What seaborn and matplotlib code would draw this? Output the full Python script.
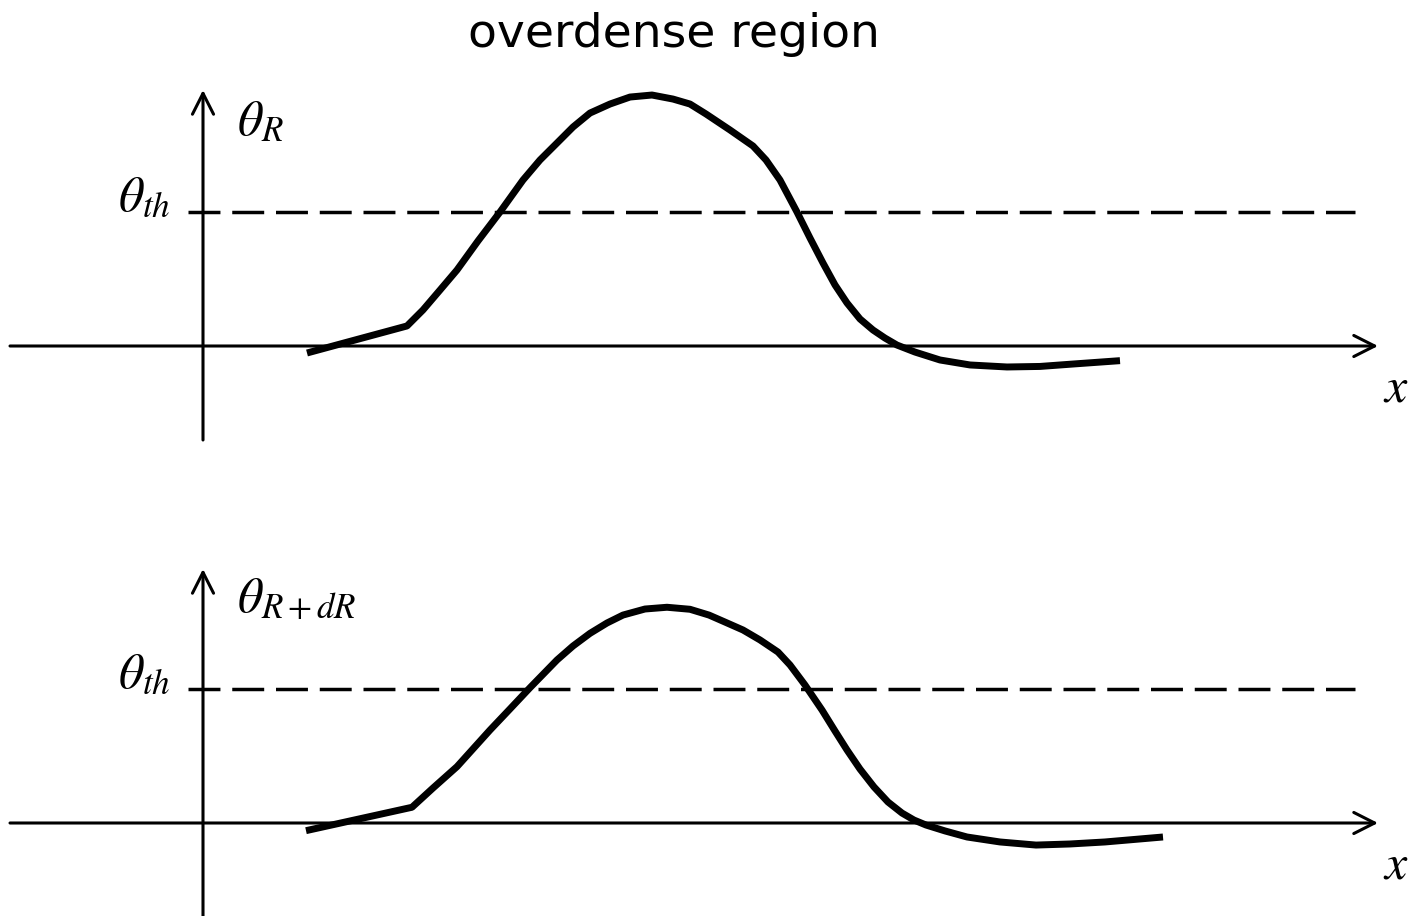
import numpy as np
import pandas as pd
import seaborn as sns
import matplotlib.pyplot as plt

# curve shapes: x = distance from the vertical axis (px), theta in units of theta_th
top_x = [104, 204, 220, 237, 254, 275, 297, 320, 337, 354, 370, 387, 407, 427, 449,
         470, 487, 503, 527, 550, 563, 577, 594, 607, 620, 632, 644, 657, 670, 682,
         694, 712, 737, 767, 804, 837, 870, 917]
top_theta = [-0.052, 0.149, 0.268, 0.416, 0.565, 0.781, 0.996, 1.234, 1.383, 1.509,
             1.628, 1.732, 1.799, 1.851, 1.866, 1.836, 1.799, 1.725, 1.606, 1.487,
             1.383, 1.234, 0.996, 0.803, 0.617, 0.454, 0.320, 0.201, 0.119, 0.059,
             0.007, -0.045, -0.104, -0.141, -0.156, -0.152, -0.134, -0.109]

bot_x = [103, 209, 230, 254, 287, 307, 327, 354, 370, 387, 404, 420, 442, 464, 487,
         506, 522, 540, 557, 575, 587, 602, 619, 632, 644, 657, 671, 685, 699, 711,
         723, 742, 764, 797, 833, 867, 902, 960]
bot_theta = [-0.057, 0.117, 0.260, 0.419, 0.691, 0.848, 1.006, 1.212, 1.316, 1.410,
             1.487, 1.546, 1.591, 1.604, 1.589, 1.546, 1.494, 1.435, 1.361, 1.271,
             1.175, 1.026, 0.840, 0.684, 0.543, 0.401, 0.268, 0.156, 0.074, 0.022,
             -0.015, -0.059, -0.104, -0.141, -0.164, -0.156, -0.141, -0.104]

theta_th = 1.0
title = "overdense region"
top_label = r"$\theta_R$"
bot_label = r"$\theta_{R+dR}$"
th_label = r"$\theta_{th}$"
x_label = r"$x$"

sns.set_theme(style="white")
plt.rcParams['mathtext.fontset'] = 'stix'
plt.rcParams['font.family'] = ['DejaVu Sans']
plt.rcParams['text.color'] = 'black'

W, H = 1413, 916
scale = 134.5  # px per theta_th
fig = plt.figure(figsize=(W / 100, H / 100), dpi=100)

# (origin row in px, lower end of y axis, tip of y axis, curve)
panels = [
    (346, 440, 90, top_x, top_theta, top_label),
    (823, 930, 569, bot_x, bot_theta, bot_label),
]

for k, (oy, yend, ytip, cx, cy, lab) in enumerate(panels):
    ax = fig.add_axes([0, 1 - (k + 1) * 0.5, 1, 0.5])
    y0 = H / 2 * (k + 1)
    ax.set_xlim(-203, W - 203)
    ax.set_ylim((oy - y0) / scale, (oy - (y0 - H / 2)) / scale)
    ax.axis('off')

    d = pd.DataFrame({'x': cx, 'theta': cy})
    sns.lineplot(data=d, x='x', y='theta', ax=ax, color='black', lw=5,
                 sort=False, solid_capstyle='butt', solid_joinstyle='round')

    ax.plot([-15, 1152], [theta_th, theta_th], color='black', lw=2.5,
            dashes=(9.2, 3.4))

    arrow = dict(arrowstyle='->,head_length=0.75,head_width=0.38', lw=2.2,
                 color='black', mutation_scale=20, shrinkA=0, shrinkB=0)
    ax.annotate('', xy=(1175, 0), xytext=(-193, 0), arrowprops=arrow)
    ax.annotate('', xy=(0, (oy - ytip) / scale), xytext=(0, (oy - yend) / scale),
                arrowprops=arrow)

    ax.text(34, 1.569, lab, fontsize=36, ha='left', va='baseline')
    ax.text(-33, theta_th + 0.01, th_label, fontsize=36, ha='right', va='baseline')
    ax.text(1193, -0.31, x_label, fontsize=36, ha='center', va='center')

fig.text(674 / W, 1 - 47 / H, title, fontsize=34, ha='center', va='baseline')

fig.savefig('out.png', dpi=100)
